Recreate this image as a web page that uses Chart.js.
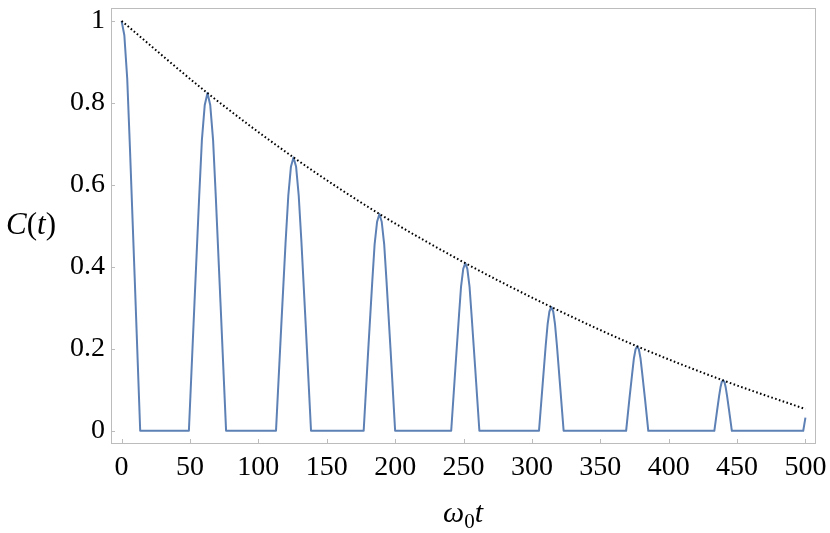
<!DOCTYPE html>
<html><head><meta charset="utf-8">
<script src="https://cdn.jsdelivr.net/npm/chart.js@4/dist/chart.umd.min.js"></script>
<style>html,body{margin:0;padding:0;background:#fff;}#wrap{width:830px;height:533px;}</style>
</head><body><div id="wrap"><canvas id="c" width="830" height="533"></canvas></div>
<script>
// ---- data ----
const tBlue = [0, 2.0, 4.1, 6.1, 9.5, 13.6,
  49.2, 53.3, 56.7, 58.7, 60.8, 62.8, 64.8, 66.9, 68.9, 72.3, 76.4,
  112.9, 116.7, 119.9, 121.9, 123.8, 125.7, 127.6, 129.5, 131.5, 134.7, 138.5,
  177.0, 180.4, 183.3, 185.0, 186.8, 188.5, 190.2, 192.0, 193.7, 196.6, 200.0,
  241.0, 244.1, 246.7, 248.2, 249.8, 251.3, 252.8, 254.4, 255.9, 258.5, 261.6,
  305.2, 307.9, 310.1, 311.5, 312.8, 314.2, 315.6, 316.9, 318.3, 320.5, 323.2,
  368.9, 371.3, 373.4, 374.6, 375.8, 377.0, 378.2, 379.4, 380.6, 382.7, 385.1,
  433.4, 435.3, 436.9, 437.9, 438.8, 439.8, 440.8, 441.7, 442.7, 444.3, 446.2,
  498.4, 500];
const cBlue = [1, 0.965, 0.86, 0.69, 0.38, 0,
  0, 0.313, 0.569, 0.709, 0.795, 0.824, 0.795, 0.709, 0.569, 0.313, 0,
  0, 0.253, 0.460, 0.574, 0.644, 0.667, 0.644, 0.574, 0.460, 0.253, 0,
  0, 0.201, 0.365, 0.455, 0.510, 0.529, 0.510, 0.455, 0.365, 0.201, 0,
  0, 0.155, 0.282, 0.352, 0.395, 0.409, 0.395, 0.352, 0.282, 0.155, 0,
  0, 0.115, 0.208, 0.260, 0.291, 0.302, 0.291, 0.260, 0.208, 0.115, 0,
  0, 0.078, 0.142, 0.177, 0.199, 0.206, 0.199, 0.177, 0.142, 0.078, 0,
  0, 0.047, 0.085, 0.106, 0.119, 0.123, 0.119, 0.106, 0.085, 0.047, 0,
  0, 0.032];
const tEnvelope = [0, 62.8, 125.7, 188.5, 251.3, 314.2, 377.0, 439.8, 500];
const cEnvelope = [1, 0.824, 0.667, 0.529, 0.409, 0.302, 0.206, 0.123, 0.053];
const xTicks = [0, 50, 100, 150, 200, 250, 300, 350, 400, 450, 500];
const yTicks = [0, 0.2, 0.4, 0.6, 0.8, 1];
const yTickLabels = ['0', '0.2', '0.4', '0.6', '0.8', '1'];
const xTitleParts = ['ω', '0', 't'];
const yTitleParts = ['C', '(', 't', ')'];

const SERIF = '"Liberation Serif", "DejaVu Serif", serif';
const FRAME = '#bcbcbc';

const blueData = tBlue.map((t, i) => ({x: t, y: cBlue[i]}));
const envData = tEnvelope.map((t, i) => ({x: t, y: cEnvelope[i]}));

const framePlugin = {
  id: 'frameTicks',
  beforeDatasetsDraw(chart) {
    const {ctx, chartArea: a, scales: {x, y}} = chart;
    ctx.save();
    ctx.strokeStyle = FRAME;
    ctx.lineWidth = 1;
    ctx.strokeRect(Math.round(a.left) + 0.5, Math.round(a.top) + 0.5,
      Math.round(a.right - a.left), Math.round(a.bottom - a.top));
    ctx.beginPath();
    xTicks.forEach(v => {
      const px = Math.round(x.getPixelForValue(v)) + 0.5;
      ctx.moveTo(px, a.bottom); ctx.lineTo(px, a.bottom - 4);
    });
    yTicks.forEach(v => {
      const py = Math.round(y.getPixelForValue(v)) + 0.5;
      ctx.moveTo(a.left, py); ctx.lineTo(a.left + 4, py);
    });
    ctx.stroke();
    ctx.restore();
  },
  afterDraw(chart) {
    const {ctx, chartArea: a} = chart;
    ctx.save();
    ctx.fillStyle = '#000';
    ctx.textBaseline = 'alphabetic';
    ctx.textAlign = 'left';
    // y title C(t)
    const fy = 31;
    const ital = `italic ${fy}px ${SERIF}`, up = `${fy}px ${SERIF}`;
    const yFonts = [ital, up, ital, up];
    let w = 0;
    yTitleParts.forEach((s, i) => { ctx.font = yFonts[i]; w += ctx.measureText(s).width; });
    let cx = 31 - w / 2;
    const by = (a.top + a.bottom) / 2 + 8;
    yTitleParts.forEach((s, i) => { ctx.font = yFonts[i]; ctx.fillText(s, cx, by); cx += ctx.measureText(s).width; });
    // x title ω0 t
    const fx = 30;
    const xFonts = [`italic ${fx}px ${SERIF}`, `${Math.round(fx * 0.7)}px ${SERIF}`, `italic ${fx}px ${SERIF}`];
    const xOff = [0, 6, 0];
    w = 0;
    xTitleParts.forEach((s, i) => { ctx.font = xFonts[i]; w += ctx.measureText(s).width; });
    cx = (a.left + a.right) / 2 - w / 2;
    const bx = 522;
    xTitleParts.forEach((s, i) => { ctx.font = xFonts[i]; ctx.fillText(s, cx, bx + xOff[i]); cx += ctx.measureText(s).width; });
    ctx.restore();
  }
};

new Chart(document.getElementById('c'), {
  type: 'scatter',
  data: {
    datasets: [
      {label: 'envelope', data: envData, showLine: true, borderColor: '#000', borderWidth: 2,
       borderDash: [1.6, 2.4], pointRadius: 0, cubicInterpolationMode: 'monotone', fill: false},
      {label: 'C(t)', data: blueData, showLine: true, borderColor: '#5E81B5', borderWidth: 2,
       pointRadius: 0, tension: 0, borderJoinStyle: 'round', fill: false}
    ]
  },
  options: {
    responsive: false, animation: false, devicePixelRatio: 1,
    layout: {padding: {top: 8, right: 15, left: 0, bottom: 0}},
    plugins: {legend: {display: false}, tooltip: {enabled: false}},
    scales: {
      x: {
        type: 'linear', min: -7.75, max: 507,
        afterBuildTicks: s => { s.ticks = xTicks.map(v => ({value: v})); },
        afterFit: s => { s.height = 90; s.paddingLeft = 0; s.paddingRight = 0; },
        grid: {display: false, drawTicks: false},
        border: {display: false},
        ticks: {font: {family: SERIF, size: 28}, color: '#000', padding: 8, maxRotation: 0, autoSkip: false,
                callback: v => String(v)}
      },
      y: {
        type: 'linear', min: -0.0298, max: 1.0315,
        afterBuildTicks: s => { s.ticks = yTicks.map(v => ({value: v})); },
        afterFit: s => { s.width = 111; s.paddingTop = 0; s.paddingBottom = 0; },
        grid: {display: false, drawTicks: false},
        border: {display: false},
        ticks: {font: {family: SERIF, size: 28}, color: '#000', padding: 6, autoSkip: false,
                callback: v => { const i = yTicks.indexOf(v); return i >= 0 ? yTickLabels[i] : ''; }}
      }
    }
  },
  plugins: [framePlugin]
});
</script></body></html>
